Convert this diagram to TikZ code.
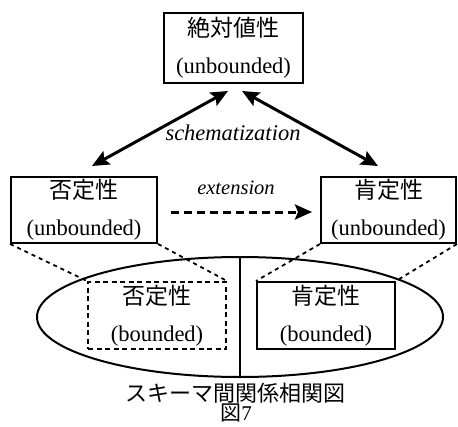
\documentclass[tikz,border=0pt]{standalone}
\usepackage{fontspec}
\setmainfont{Liberation Serif}
\newfontfamily\jp{Noto Sans CJK JP}
\usetikzlibrary{arrows.meta,shapes.geometric}
\begin{document}
\begin{tikzpicture}[x=1pt,y=-1pt,
  box/.style={draw,line width=2pt,inner sep=0pt,align=center,
    font=\fontsize{22.5}{37}\selectfont},
  dotline/.style={line width=1.8pt,dash pattern=on 4pt off 4pt},
  dbl/.style={line width=3pt,{Stealth[length=17pt,width=15pt,inset=3pt]}-{Stealth[length=17pt,width=15pt,inset=3pt]}},
  lbl/.style={font=\itshape\fontsize{22.5}{26}\selectfont}
]
\useasboundingbox (0,0) rectangle (458,426);
\node[box,minimum width=139pt,minimum height=70pt] (top) at (233.5,48)
  {{\jp\fontsize{23}{23}\selectfont 絶対値性}\\(unbounded)};
\node[box,minimum width=146pt,minimum height=66pt] (left) at (84,210)
  {{\jp\fontsize{23}{23}\selectfont 否定性}\\(unbounded)};
\node[box,minimum width=135pt,minimum height=66pt] (right) at (388.5,210)
  {{\jp\fontsize{23}{23}\selectfont 肯定性}\\(unbounded)};
\node[draw,ellipse,line width=2pt,minimum width=406pt,minimum height=120pt,inner sep=0pt] (ell) at (240,317) {};
\draw[line width=1.6pt] (ell.north) -- (ell.south);
\node[box,dash pattern=on 5pt off 3.5pt,minimum width=138pt,minimum height=67pt] (lb) at (157,315.5)
  {{\jp\fontsize{23}{23}\selectfont 否定性}\\(bounded)};
\node[box,minimum width=138pt,minimum height=67pt] (rb) at (326,315.5)
  {{\jp\fontsize{23}{23}\selectfont 肯定性}\\(bounded)};
\draw[dotline] (left.south west) -- (lb.north west);
\draw[dotline] (left.south east) -- (lb.north east);
\draw[dotline] (right.south west) -- (rb.north west);
\draw[dotline] (right.south east) -- (rb.north east);
\draw[dbl] ([xshift=8pt,yshift=10pt]left.north) -- ([xshift=-5.5pt,yshift=-7pt]top.south);
\draw[dbl] ([xshift=8.5pt,yshift=-7pt]top.south) -- ([xshift=-10.5pt,yshift=10pt]right.north);
\draw[line width=3pt,dash pattern=on 8pt off 5pt,-{Stealth[length=17pt,width=15pt,inset=3pt]}]
  ([xshift=13pt,yshift=-2pt]left.east) -- ([xshift=-8pt,yshift=-2pt]right.west);
\node[lbl] (sch) at (233,133) {schematization};
\node[font=\itshape\fontsize{20.5}{24}\selectfont] (ext) at (236,188) {extension};
\node[font=\jp\fontsize{22}{24}\selectfont,inner sep=0pt] (cap) at (235,393) {スキーマ間関係相関図};
\node[font=\fontsize{21}{22}\selectfont,inner sep=0pt] (fig) at (236,413) {{\jp 図}7};
\end{tikzpicture}
\end{document}
